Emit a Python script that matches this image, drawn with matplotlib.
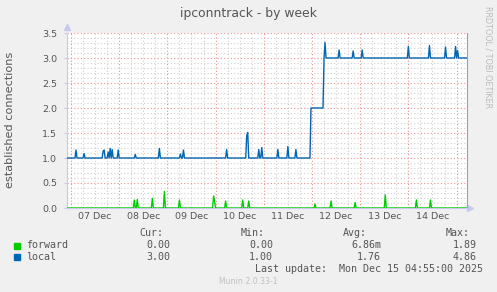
import matplotlib
matplotlib.use("Agg")
import matplotlib.pyplot as plt
import numpy as np

# hours since 07 Dec 00:00
day_labels = ["07 Dec", "08 Dec", "09 Dec", "10 Dec", "11 Dec", "12 Dec", "13 Dec", "14 Dec"]
t_start, t_end = -2.0, 197.2

# local: level changes and spikes
local_level_h = [-2.0, 119.3, 126.0]
local_level_v = [1.0, 2.0, 3.0]
local_spike_h = [2.5, 6.6, 16.2, 16.7, 18.6, 19.6, 20.6, 23.6, 32.0, 44.0, 54.6, 55.9,
                 77.5, 87.3, 87.8, 93.3, 94.8, 103.2, 108.2, 112.2,
                 126.6, 133.6, 140.6, 145.0, 168.0, 178.4, 186.4, 191.4, 192.4]
local_spike_v = [1.16, 1.09, 1.14, 1.16, 1.12, 1.19, 1.17, 1.16, 1.07, 1.19, 1.08, 1.16,
                 1.17, 1.45, 1.51, 1.17, 1.21, 1.17, 1.23, 1.17,
                 3.31, 3.16, 3.14, 3.16, 3.23, 3.25, 3.22, 3.23, 3.15]

# forward: spikes on zero
forward_spike_h = [31.7, 33.0, 40.5, 46.5, 53.9, 70.9, 71.7, 77.0, 85.3, 88.3,
                   121.7, 129.7, 141.6, 156.6, 172.0, 179.0]
forward_spike_v = [0.16, 0.17, 0.19, 0.33, 0.16, 0.24, 0.13, 0.14, 0.16, 0.14,
                   0.08, 0.14, 0.11, 0.26, 0.16, 0.16]

legend_names = ["forward", "local"]
legend_colors = ["#00CC00", "#0066B3"]
cur_vals = ["0.00", "3.00"]
min_vals = ["0.00", "1.00"]
avg_vals = ["6.86m", "1.76"]
max_vals = ["1.89", "4.86"]

# 30 min samples
t = np.arange(t_start, t_end + 0.01, 0.5)
idx = np.searchsorted(local_level_h, t, side="right") - 1
local = np.array(local_level_v)[np.clip(idx, 0, None)]
for h, v in zip(local_spike_h, local_spike_v):
    local[np.argmin(np.abs(t - h))] = v
forward = np.zeros_like(t)
for h, v in zip(forward_spike_h, forward_spike_v):
    forward[np.argmin(np.abs(t - h))] = v

W, H = 497, 292
fig = plt.figure(figsize=(W / 100, H / 100), dpi=100, facecolor="#F0F0F0")
ax = fig.add_axes([67 / W, 84 / H, 400 / W, 175 / H])
ax.set_facecolor("white")

txt = "#555555"
# grid
for y in np.arange(0.1, 3.51, 0.1):
    major = abs(y * 2 - round(y * 2)) < 1e-6
    ax.axhline(y, color="#F09090" if major else "#D0D0D0", lw=0.8,
               ls=(0, (1, 2)), zorder=1)
for h in np.arange(0, t_end, 6):
    major = h % 24 == 0
    ax.axvline(h, color="#F09090" if major else "#D0D0D0", lw=0.8,
               ls=(0, (1, 2)), zorder=1)

ax.plot(t, forward, color=legend_colors[0], lw=1.0, zorder=3)
ax.plot(t, local, color=legend_colors[1], lw=1.0, zorder=3)

ax.set_xlim(t_start, t_end)
ax.set_ylim(0, 3.5)
ax.set_xticks(np.arange(12, 192, 24))
ax.set_xticklabels(day_labels)
ax.set_yticks(np.arange(0, 3.51, 0.5))
ax.set_yticklabels(["%.1f" % v for v in np.arange(0, 3.51, 0.5)])
ax.tick_params(axis="x", length=0, pad=3, labelsize=6.8, colors=txt)
ax.tick_params(axis="y", length=2, pad=5, labelsize=6.8, colors=txt, color="#C8C8F0")

ax.spines["top"].set_visible(False)
ax.spines["right"].set_color("#A0A0A0")
ax.spines["left"].set_color("#C8C8F0")
ax.spines["bottom"].set_color("#C8C8F0")
ax.plot([t_start], [3.62], marker="^", ms=4, color="#C8C8F0", clip_on=False)
ax.plot([t_end + 1.4], [0], marker=">", ms=4, color="#C8C8F0", clip_on=False)

fig.text(248 / W, 1 - 13 / H, "ipconntrack - by week", ha="center", va="center",
         fontsize=8.9, color=txt)
fig.text(10.5 / W, 1 - 120 / H, "established connections", rotation=90,
         ha="center", va="center", fontsize=8.1, color=txt)
fig.text(488 / W, 1 - 57 / H, "RRDTOOL / TOBI OETIKER", rotation=270,
         ha="center", va="center", fontsize=5.8, color="#BBBBBB")

mono = "DejaVu Sans Mono"
fs = 7.2
for x, s in [(163, "Cur:"), (265, "Min:"), (367, "Avg:"), (470, "Max:")]:
    fig.text(x / W, 1 - 233 / H, s, ha="right", va="center", family=mono, fontsize=fs, color=txt)
for i, name in enumerate(legend_names):
    y = 245.5 + i * 11.8
    fig.patches.append(plt.Rectangle((14 / W, 1 - (y + 3) / H), 6 / W, 6 / H,
                                     transform=fig.transFigure, color=legend_colors[i]))
    fig.text(26 / W, 1 - y / H, name, ha="left", va="center", family=mono, fontsize=fs, color=txt)
    for x, vals in [(170, cur_vals), (273, min_vals), (381, avg_vals), (477, max_vals)]:
        fig.text(x / W, 1 - y / H, vals[i], ha="right", va="center", family=mono,
                 fontsize=fs, color=txt)
fig.text(483 / W, 1 - 269.3 / H, "Last update:  Mon Dec 15 04:55:00 2025", ha="right",
         va="center", family=mono, fontsize=fs, color=txt)
fig.text(248.5 / W, 1 - 281 / H, "Munin 2.0.33-1", ha="center", va="center",
         fontsize=5.6, color="#C0C0C0")

fig.savefig("out.png", dpi=100, facecolor=fig.get_facecolor())
